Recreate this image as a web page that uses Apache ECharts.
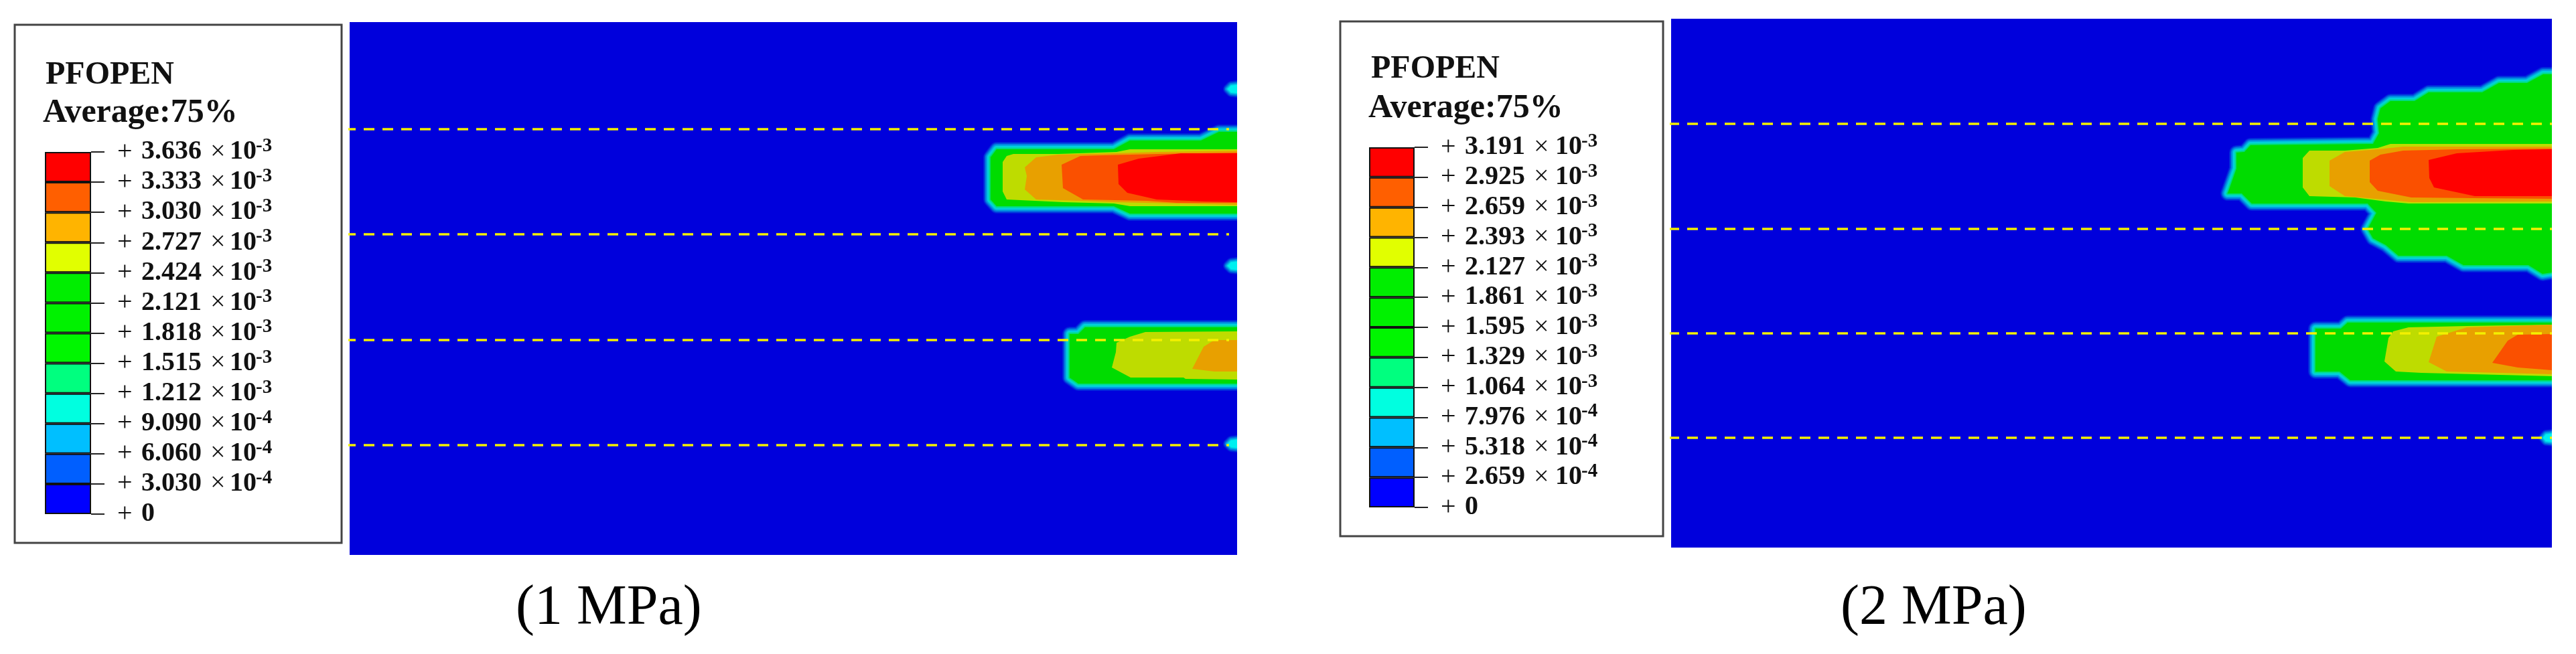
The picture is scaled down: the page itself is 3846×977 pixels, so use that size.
<!DOCTYPE html>
<html>
<head>
<meta charset="utf-8">
<style>
  html, body { margin: 0; padding: 0; background: #fff; }
  #main { width: 3846px; height: 977px; }
</style>
<script src="https://cdn.jsdelivr.net/npm/echarts@6/dist/echarts.min.js"></script>
</head>
<body>
<div id="main"></div>
<script>
// legend values, top to bottom
const levels1 = [3.636e-3, 3.333e-3, 3.030e-3, 2.727e-3, 2.424e-3, 2.121e-3, 1.818e-3, 1.515e-3, 1.212e-3, 9.090e-4, 6.060e-4, 3.030e-4, 0];
const levels2 = [3.191e-3, 2.925e-3, 2.659e-3, 2.393e-3, 2.127e-3, 1.861e-3, 1.595e-3, 1.329e-3, 1.064e-3, 7.976e-4, 5.318e-4, 2.659e-4, 0];
const barColors = ['#ff0000', '#ff5f00', '#ffb400', '#e1ff00', '#00ee00', '#00f200', '#00f600', '#00ff7f', '#00ffe0', '#00bfff', '#005fff', '#0000ff'];

// 1 MPa contours (model x, model y)
const green1 = [
  [[1325,164],[1298,164],[1271,177],[1165,177],[1141,190],[966,190],[957,202],[957,265],[966,275],[1141,275],[1165,286],[1325,286]],
  [[1325,456],[1098,456],[1088,466],[1075,466],[1075,531],[1088,540],[1325,540]]
];
const yellow1 = [
  [[1325,190],[1165,190],[1145,194],[1058,197],[991,197],[981,200],[975,209],[975,253],[981,265],[1065,269],[1141,271],[1165,275],[1325,275]],
  [[1325,462],[1188,463],[1165,470],[1145,479],[1144,493],[1138,516],[1166,531],[1245,531],[1248,533],[1325,534]]
];
const orange1 = [
  [[1325,192],[1208,194],[1141,196],[1058,198],[1025,202],[1008,217],[1011,230],[1008,250],[1025,265],[1091,267],[1141,269],[1235,271],[1325,273]],
  [[1325,475],[1291,475],[1275,485],[1258,518],[1291,522],[1325,522]]
];
const redOrange1 = [
  [[1325,195],[1208,197],[1125,199],[1091,200],[1063,213],[1065,248],[1095,265],[1191,267],[1235,270],[1325,270]]
];
const red1 = [
  [[1325,196],[1241,196],[1178,204],[1147,213],[1148,242],[1161,255],[1205,265],[1278,268],[1325,269]]
];
// small closed zones on the right edge
const spots1 = [
  [[1325,94],[1316,95],[1311,100],[1316,105],[1325,106]],
  [[1325,358],[1316,359],[1311,364],[1316,369],[1325,370]],
  [[1325,624],[1316,625],[1311,630],[1316,635],[1325,636]]
];
const cracks1 = [160, 317, 475, 632];

// 2 MPa contours
const green2 = [
  [[1315,83],[1302,83],[1278,96],[1236,96],[1211,110],[1131,110],[1110,123],[1074,123],[1059,134],[1055,150],[1057,171],[1048,187],[865,189],[856,199],[844,200],[844,224],[831,261],[852,261],[867,276],[1040,276],[1053,290],[1040,314],[1048,328],[1067,338],[1086,354],[1158,354],[1183,368],[1280,368],[1301,381],[1315,379]],
  [[1315,454],[1010,454],[1000,463],[962,463],[962,527],[998,527],[1014,540],[1315,540]]
];
const yellow2 = [
  [[1315,187],[1074,187],[1055,193],[1006,197],[953,197],[943,208],[943,252],[953,265],[1021,267],[1067,273],[1101,276],[1315,276]],
  [[1315,457],[1188,459],[1101,461],[1078,467],[1071,477],[1065,512],[1082,527],[1120,529],[1315,534]]
];
const orange2 = [
  [[1315,191],[1093,191],[1055,195],[1006,199],[983,212],[983,250],[1006,265],[1040,268],[1105,274],[1315,273]],
  [[1315,457],[1188,461],[1143,475],[1131,513],[1158,527],[1315,531]]
];
const redOrange2 = [
  [[1315,194],[1173,195],[1093,197],[1059,203],[1043,212],[1043,244],[1055,257],[1105,267],[1200,268],[1315,269]],
  [[1315,471],[1264,472],[1249,481],[1226,514],[1264,521],[1315,525]]
];
const red2 = [
  [[1315,195],[1257,196],[1173,201],[1131,211],[1132,238],[1139,252],[1200,265],[1315,265]]
];
const spots2 = [
  [[1315,620],[1306,621],[1302,626],[1306,631],[1315,632]]
];
const cracks2 = [157, 314, 470, 626];

const serif = '"Liberation Serif", serif';
const BG_BLUE = '#0000dc';

function clipOf(rect) {
  return { type: 'rect', shape: { x: rect.x, y: rect.y, width: rect.width, height: rect.height } };
}

// one custom series per contour level, polygons go through the axis scale
function contour(polys, gridIndex, color, halo) {
  return {
    type: 'custom',
    coordinateSystem: 'cartesian2d',
    xAxisIndex: gridIndex,
    yAxisIndex: gridIndex,
    silent: true,
    animation: false,
    data: polys.map(function (p, i) { return [p[0][0], p[0][1], i]; }),
    renderItem: function (params, api) {
      let pts = polys[params.dataIndex].map(function (p) { return api.coord(p); });
      return {
        type: 'polygon',
        shape: { points: pts },
        clipPath: clipOf(params.coordSys),
        style: {
          fill: halo ? 'none' : color,
          stroke: halo ? color : 'none',
          lineWidth: halo || 0,
          lineJoin: 'round'
        }
      };
    }
  };
}

function panelSeries(gridIndex, sets, spots, cracks, startX, endX) {
  let out = [
    // blue to cyan rim outside the green zone
    contour(sets.green, gridIndex, '#0020dc', 22),
    contour(sets.green, gridIndex, '#0050de', 19),
    contour(sets.green, gridIndex, '#0080e0', 16),
    contour(sets.green, gridIndex, '#00a8e0', 13),
    contour(sets.green, gridIndex, '#00d0dc', 10),
    contour(sets.green, gridIndex, '#00dcb0', 6),
    contour(sets.green, gridIndex, '#00dc70', 3),
    contour(sets.green, gridIndex, '#00dc00'),
    contour(sets.yellow, gridIndex, '#bedc00'),
    contour(sets.orange, gridIndex, '#e8a000'),
    contour(sets.redOrange, gridIndex, '#fa5000'),
    contour(sets.red, gridIndex, '#ff0000'),
    // edge spots only reach cyan
    contour(spots, gridIndex, '#0020dc', 14),
    contour(spots, gridIndex, '#0050de', 11),
    contour(spots, gridIndex, '#0080e0', 8),
    contour(spots, gridIndex, '#00b0e4', 5),
    contour(spots, gridIndex, '#00d8e8', 2),
    contour(spots, gridIndex, '#00f0f0')
  ];
  cracks.forEach(function (y) {
    out.push({
      type: 'line',
      xAxisIndex: gridIndex,
      yAxisIndex: gridIndex,
      silent: true,
      animation: false,
      clip: false,
      symbol: 'none',
      z: 4,
      data: [[startX, y], [endX, y]],
      lineStyle: { color: '#f4f000', width: 3.5, type: [16, 12] }
    });
  });
  return out;
}

function barSeries(gridIndex) {
  // stacked from the bottom, blue first
  return barColors.slice().reverse().map(function (c) {
    return {
      type: 'bar',
      xAxisIndex: gridIndex,
      yAxisIndex: gridIndex,
      stack: 'bar' + gridIndex,
      barWidth: '100%',
      silent: true,
      animation: false,
      data: [1],
      itemStyle: { color: c, borderColor: '#111', borderWidth: 2 }
    };
  });
}

function legendLabel(levels) {
  return function (v) {
    let val = levels[levels.length - 1 - v];
    if (val === undefined) return '';
    if (val === 0) return '{plus|+}{num|0}';
    let parts = val.toExponential(3).split('e');
    return '{plus|+}{num|' + parts[0] + '}{times|×}{ten|10}{sup|' + parts[1] + '}';
  };
}

function legendAxis(gridIndex, levels, timesWidth) {
  return {
    type: 'value',
    gridIndex: gridIndex,
    position: 'right',
    min: 0,
    max: levels.length - 1,
    interval: 1,
    splitLine: { show: false },
    axisLine: { show: false },
    axisTick: { show: true, length: 20, lineStyle: { color: '#222', width: 2 } },
    axisLabel: {
      margin: 39,
      formatter: legendLabel(levels),
      rich: {
        plus: { width: 36, fontFamily: serif, fontSize: 40, color: '#111', align: 'left' },
        num: { width: 103, fontFamily: serif, fontSize: 40, fontWeight: 'bold', color: '#111', align: 'left' },
        times: { width: timesWidth, fontFamily: serif, fontSize: 40, color: '#111', align: 'left' },
        ten: { width: 39, fontFamily: serif, fontSize: 40, fontWeight: 'bold', color: '#111', align: 'left' },
        sup: { fontFamily: serif, fontSize: 29, fontWeight: 'bold', color: '#111', verticalAlign: 'top', lineHeight: 46 }
      }
    }
  };
}

function headText(text, left, top, size) {
  return { text: text, left: left, top: top, padding: 0, textStyle: { fontFamily: serif, fontSize: size, fontWeight: 'bold', color: '#111' } };
}
function captionText(text, left) {
  return { text: text, left: left, top: 868, padding: 0, textStyle: { fontFamily: serif, fontSize: 84, fontWeight: 'normal', color: '#000' } };
}

let myChart = echarts.init(document.getElementById('main'), null, { renderer: 'canvas' });

let option = {
  backgroundColor: '#fff',
  animation: false,
  title: [
    headText('PFOPEN', 68, 89, 48),
    headText('Average:75%', 64, 144, 50),
    headText('PFOPEN', 2047, 80, 48),
    headText('Average:75%', 2043, 137, 50),
    captionText('(1 MPa)', 770),
    captionText('(2 MPa)', 2748)
  ],
  grid: [
    { left: 522, top: 33, width: 1325, height: 796, show: true, backgroundColor: BG_BLUE, borderWidth: 0 },
    { left: 2495, top: 28, width: 1315, height: 790, show: true, backgroundColor: BG_BLUE, borderWidth: 0 },
    { left: 67, top: 227, width: 69, height: 541 },
    { left: 2044, top: 220, width: 68, height: 538 }
  ],
  xAxis: [
    { type: 'value', gridIndex: 0, min: 0, max: 1325, show: false },
    { type: 'value', gridIndex: 1, min: 0, max: 1315, show: false },
    { type: 'category', gridIndex: 2, data: [''], show: false },
    { type: 'category', gridIndex: 3, data: [''], show: false }
  ],
  yAxis: [
    { type: 'value', gridIndex: 0, min: 0, max: 796, inverse: true, show: false },
    { type: 'value', gridIndex: 1, min: 0, max: 790, inverse: true, show: false },
    legendAxis(2, levels1, 29),
    legendAxis(3, levels2, 32)
  ],
  graphic: [
    { type: 'rect', shape: { x: 22, y: 37, width: 488, height: 774 }, style: { fill: '#fff', stroke: '#444', lineWidth: 3 }, silent: true, z: -1 },
    { type: 'rect', shape: { x: 2001, y: 32, width: 482, height: 769 }, style: { fill: '#fff', stroke: '#444', lineWidth: 3 }, silent: true, z: -1 }
  ],
  series: [].concat(
    panelSeries(0, { green: green1, yellow: yellow1, orange: orange1, redOrange: redOrange1, red: red1 }, spots1, cracks1, -7, 1313),
    panelSeries(1, { green: green2, yellow: yellow2, orange: orange2, redOrange: redOrange2, red: red2 }, spots2, cracks2, -4, 1315),
    barSeries(2),
    barSeries(3)
  )
};

myChart.setOption(option);
</script>
</body>
</html>
